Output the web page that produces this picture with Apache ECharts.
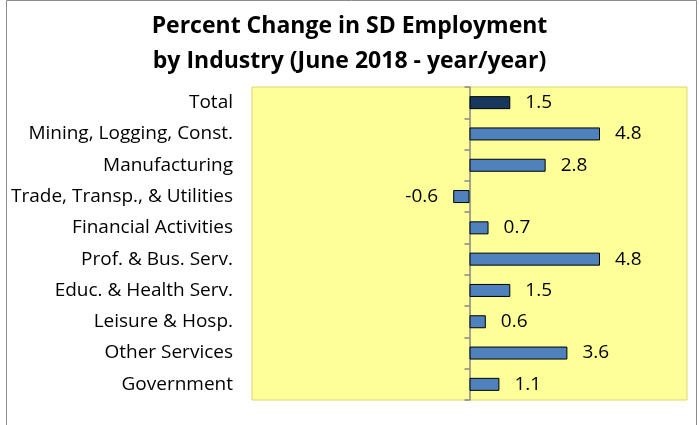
<!DOCTYPE html>
<html>
<head>
<meta charset="utf-8">
<script src="https://cdn.jsdelivr.net/npm/echarts@6/dist/echarts.min.js"></script>
<style>
  html, body { margin: 0; padding: 0; background: #fff; }
  #chart { width: 699px; height: 425px; }
</style>
</head>
<body>
<div id="chart"></div>
<script>
var industries = [
  "Total",
  "Mining, Logging, Const.",
  "Manufacturing",
  "Trade, Transp., & Utilities",
  "Financial Activities",
  "Prof. & Bus. Serv.",
  "Educ. & Health Serv.",
  "Leisure & Hosp.",
  "Other Services",
  "Government"
];
var pctChange = [1.5, 4.8, 2.8, -0.6, 0.7, 4.8, 1.5, 0.6, 3.6, 1.1];

var barData = pctChange.map(function (v, i) {
  return {
    value: v,
    itemStyle: { color: i === 0 ? "#17375E" : "#4F81BD" },
    label: { position: v < 0 ? "left" : "right" }
  };
});

var myChart = echarts.init(document.getElementById("chart"));
var option = {
  animation: false,
  title: {
    text: "Percent Change in SD Employment\nby Industry (June 2018 - year/year)",
    left: "center",
    top: 4,
    textStyle: {
      fontFamily: "Open Sans",
      fontWeight: "bold",
      fontSize: 23,
      lineHeight: 35,
      color: "#000"
    }
  },
  graphic: [
    {
      type: "rect",
      shape: { x: 6.5, y: 0.5, width: 690, height: 440 },
      style: { fill: "none", stroke: "#8c8c8c", lineWidth: 1 },
      silent: true
    }
  ],
  grid: {
    left: 252,
    right: 12,
    top: 87,
    bottom: 25,
    containLabel: false,
    outerBoundsMode: "none",
    show: true,
    backgroundColor: "#FFFF99",
    borderColor: "#d9d96a",
    borderWidth: 1
  },
  xAxis: {
    type: "value",
    min: -8,
    max: 8,
    show: false,
    splitLine: { show: false }
  },
  yAxis: {
    type: "category",
    inverse: true,
    data: industries,
    axisLine: { onZero: true, lineStyle: { color: "#868686", width: 1.5 } },
    axisTick: { show: true, length: 5, lineStyle: { color: "#868686", width: 1.5 } },
    axisLabel: {
      margin: 19,
      fontFamily: "Open Sans",
      fontSize: 19,
      color: "#000"
    }
  },
  series: [
    {
      type: "bar",
      data: barData,
      barWidth: 13,
      itemStyle: { borderColor: "#000", borderWidth: 1 },
      label: {
        show: true,
        distance: 15,
        fontFamily: "Open Sans",
        fontSize: 19,
        color: "#000",
        formatter: function (p) { return p.value.toFixed(1); }
      }
    }
  ]
};
myChart.setOption(option);
</script>
</body>
</html>
